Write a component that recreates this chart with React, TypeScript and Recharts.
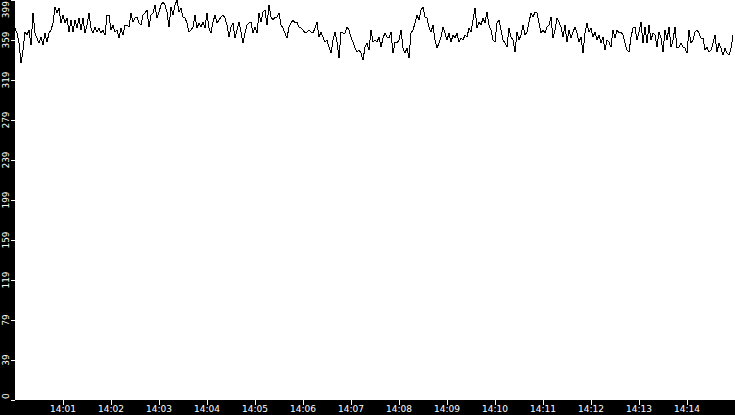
import { LineChart, Line, XAxis, YAxis, CartesianGrid } from 'recharts';

// one sample every 2.5 s, 14:00:00 -> 14:15:00, split in 2.5 minute chunks
const STEP = 2.5;

const VALUES_1400 = [
  371, 366, 356, 336, 349, 367, 364, 369, 354, 386, 366, 361, 356, 362, 354, 366, 357, 366, 369, 376,
  392, 386, 391, 376, 384, 376, 381, 367, 379, 367, 379, 371, 381, 369, 381, 366, 374, 386, 371, 366,
  372, 367, 371, 366, 369, 364, 384, 384, 369, 374, 367, 369, 361, 371, 364, 374, 374, 372, 386, 377,
];
const VALUES_1402 = [
  381, 382, 376, 374, 384, 386, 389, 372, 384, 386, 394, 381, 387, 394, 397, 394, 387, 372, 392, 384,
  394, 399, 387, 391, 382, 381, 376, 367, 369, 372, 384, 371, 376, 372, 377, 371, 386, 371, 366, 377,
  384, 376, 379, 382, 384, 381, 374, 362, 372, 376, 361, 369, 377, 367, 356, 366, 374, 376, 377, 366,
];
const VALUES_1405 = [
  372, 366, 386, 377, 387, 389, 374, 394, 382, 379, 382, 382, 386, 374, 371, 366, 361, 372, 376, 379,
  376, 377, 372, 371, 369, 366, 367, 369, 367, 366, 371, 377, 362, 367, 362, 357, 359, 352, 346, 359,
  367, 357, 341, 367, 366, 366, 372, 369, 362, 357, 351, 347, 349, 346, 339, 352, 356, 349, 369, 357,
];
const VALUES_1407 = [
  359, 357, 362, 352, 361, 366, 362, 361, 367, 346, 357, 356, 359, 369, 351, 346, 351, 341, 366, 369,
  376, 384, 379, 389, 392, 382, 381, 372, 367, 374, 359, 351, 356, 362, 372, 366, 359, 366, 357, 364,
  361, 366, 357, 361, 359, 364, 362, 371, 367, 379, 391, 371, 377, 374, 381, 376, 387, 374, 369, 359,
];
const VALUES_1410 = [
  357, 376, 379, 369, 359, 356, 352, 371, 362, 359, 347, 367, 359, 364, 374, 364, 367, 377, 386, 382,
  387, 386, 376, 366, 369, 366, 372, 374, 382, 361, 369, 381, 377, 372, 362, 374, 357, 369, 361, 367,
  372, 366, 357, 362, 346, 366, 376, 367, 371, 362, 367, 359, 364, 356, 362, 349, 359, 357, 352, 369,
];
const VALUES_1412 = [
  361, 369, 366, 367, 364, 356, 349, 347, 362, 371, 372, 359, 367, 377, 356, 372, 356, 374, 359, 366,
  364, 352, 367, 361, 347, 369, 359, 372, 352, 359, 372, 351, 352, 356, 352, 351, 346, 369, 356, 359,
  367, 369, 366, 361, 361, 349, 352, 347, 349, 356, 364, 347, 356, 351, 344, 351, 346, 344, 351, 364,
];

const X_TICKS = [60, 120, 180, 240, 300, 360, 420, 480, 540, 600, 660, 720, 780, 840];
const X_TICK_LABELS = [
  '14:01', '14:02', '14:03', '14:04', '14:05', '14:06', '14:07',
  '14:08', '14:09', '14:10', '14:11', '14:12', '14:13', '14:14',
];
const Y_TICK_LABELS = ['0', '39', '79', '119', '159', '199', '239', '279', '319', '359', '399'];
const Y_MAX = 399;

const data = [
  ...VALUES_1400,
  ...VALUES_1402,
  ...VALUES_1405,
  ...VALUES_1407,
  ...VALUES_1410,
  ...VALUES_1412,
].map((v, i) => ({ t: i * STEP, v }));

const yTicks = Y_TICK_LABELS.map((_, i) => (i * Y_MAX) / (Y_TICK_LABELS.length - 1));

function YTick(props: any) {
  const { y, index } = props;
  const x = 8.5;
  // keep the end labels inside the plot height
  let anchor = 'middle';
  let ty = y;
  if (index === 0) {
    anchor = 'start';
    ty = y - 1;
  } else if (index === Y_TICK_LABELS.length - 1) {
    anchor = 'end';
    ty = y + 1;
  }
  return (
    <text
      x={x}
      y={ty}
      fill="#fff"
      fontSize={9}
      textAnchor={anchor}
      transform={`rotate(-90, ${x}, ${ty})`}
    >
      {Y_TICK_LABELS[index]}
    </text>
  );
}

export default function App() {
  return (
    <div
      style={{
        position: 'absolute',
        left: 0,
        top: 0,
        width: 735,
        height: 415,
        background: '#000',
        fontFamily: '"DejaVu Sans", sans-serif',
      }}
    >
      <LineChart width={735} height={415} data={data} margin={{ top: 0, right: 0, left: 0, bottom: 0 }}>
        <CartesianGrid fill="#fff" stroke="none" horizontal={false} vertical={false} />
        <XAxis
          dataKey="t"
          type="number"
          domain={[0, 900]}
          ticks={X_TICKS}
          tickFormatter={(_, i) => X_TICK_LABELS[i]}
          height={15}
          axisLine={false}
          tickSize={5}
          tickMargin={1}
          tickLine={{ stroke: '#fff', shapeRendering: 'crispEdges' }}
          tick={{ fill: '#fff', fontSize: 9 }}
          interval={0}
        />
        <YAxis
          type="number"
          domain={[0, Y_MAX]}
          ticks={yTicks}
          width={15}
          axisLine={false}
          tickSize={4}
          tickLine={{ stroke: '#fff', shapeRendering: 'crispEdges' }}
          tick={<YTick />}
          interval={0}
        />
        <Line
          type="linear"
          dataKey="v"
          stroke="#000"
          strokeWidth={1}
          shapeRendering="crispEdges"
          dot={false}
          isAnimationActive={false}
        />
      </LineChart>
    </div>
  );
}
